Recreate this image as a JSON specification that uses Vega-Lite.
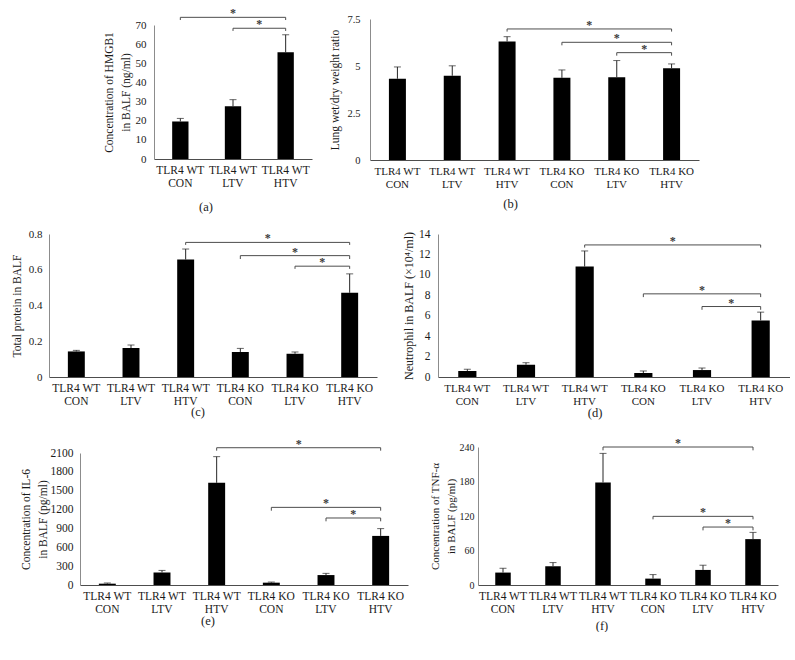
{
"$schema": "https://vega.github.io/schema/vega-lite/v6.json",
"padding": 0,
"config": {
  "view": {"stroke": null},
  "font": "Liberation Serif",
  "axis": {"labelFont": "Liberation Serif", "titleFont": "Liberation Serif", "titleFontWeight": "normal", "grid": false, "ticks": false, "labelColor": "#1a1a1a", "titleColor": "#1a1a1a", "labelOverlap": false, "labelBound": false, "labelFlush": false},
  "title": {"font": "Liberation Serif", "fontWeight": "normal", "fontSize": 12.5, "color": "#1a1a1a"}
},
"datasets": {
  "a": [
    {"group": "TLR4 WT CON", "mean": 19.6, "hi": 21.2},
    {"group": "TLR4 WT LTV", "mean": 27.5, "hi": 31.0},
    {"group": "TLR4 WT HTV", "mean": 55.7, "hi": 64.9}
  ],
  "a_br": [
    {"x1": 0.5, "x2": 2.5, "xm": 1.5, "y": 74.0, "yl": 72.6},
    {"x1": 1.5, "x2": 2.5, "xm": 2.0, "y": 68.3, "yl": 66.9}
  ],
  "b": [
    {"group": "TLR4 WT CON", "mean": 4.32, "hi": 4.95},
    {"group": "TLR4 WT LTV", "mean": 4.48, "hi": 5.01},
    {"group": "TLR4 WT HTV", "mean": 6.30, "hi": 6.56},
    {"group": "TLR4 KO CON", "mean": 4.37, "hi": 4.79},
    {"group": "TLR4 KO LTV", "mean": 4.40, "hi": 5.29},
    {"group": "TLR4 KO HTV", "mean": 4.88, "hi": 5.11}
  ],
  "b_br": [
    {"x1": 2.5, "x2": 5.5, "xm": 4.0, "y": 6.97, "yl": 6.83},
    {"x1": 3.5, "x2": 5.5, "xm": 4.5, "y": 6.26, "yl": 6.10},
    {"x1": 4.5, "x2": 5.5, "xm": 5.0, "y": 5.71, "yl": 5.55}
  ],
  "c": [
    {"group": "TLR4 WT CON", "mean": 0.143, "hi": 0.149},
    {"group": "TLR4 WT LTV", "mean": 0.162, "hi": 0.179},
    {"group": "TLR4 WT HTV", "mean": 0.657, "hi": 0.716},
    {"group": "TLR4 KO CON", "mean": 0.140, "hi": 0.160},
    {"group": "TLR4 KO LTV", "mean": 0.130, "hi": 0.140},
    {"group": "TLR4 KO HTV", "mean": 0.471, "hi": 0.577}
  ],
  "c_br": [
    {"x1": 2.5, "x2": 5.5, "xm": 4.0, "y": 0.753, "yl": 0.739},
    {"x1": 3.5, "x2": 5.5, "xm": 4.5, "y": 0.679, "yl": 0.660},
    {"x1": 4.5, "x2": 5.5, "xm": 5.0, "y": 0.620, "yl": 0.605}
  ],
  "d": [
    {"group": "TLR4 WT CON", "mean": 0.59, "hi": 0.75},
    {"group": "TLR4 WT LTV", "mean": 1.20, "hi": 1.40},
    {"group": "TLR4 WT HTV", "mean": 10.81, "hi": 12.34},
    {"group": "TLR4 KO CON", "mean": 0.39, "hi": 0.59},
    {"group": "TLR4 KO LTV", "mean": 0.68, "hi": 0.88},
    {"group": "TLR4 KO HTV", "mean": 5.54, "hi": 6.35}
  ],
  "d_br": [
    {"x1": 2.5, "x2": 5.5, "xm": 4.0, "y": 12.93, "yl": 12.67},
    {"x1": 3.5, "x2": 5.5, "xm": 4.5, "y": 8.14, "yl": 7.82},
    {"x1": 4.5, "x2": 5.5, "xm": 5.0, "y": 6.90, "yl": 6.58}
  ],
  "e": [
    {"group": "TLR4 WT CON", "mean": 21, "hi": 32},
    {"group": "TLR4 WT LTV", "mean": 200, "hi": 232},
    {"group": "TLR4 WT HTV", "mean": 1625, "hi": 2042},
    {"group": "TLR4 KO CON", "mean": 37, "hi": 47},
    {"group": "TLR4 KO LTV", "mean": 158, "hi": 185},
    {"group": "TLR4 KO HTV", "mean": 781, "hi": 897}
  ],
  "e_br": [
    {"x1": 2.5, "x2": 5.5, "xm": 4.0, "y": 2184, "yl": 2137},
    {"x1": 3.5, "x2": 5.5, "xm": 4.5, "y": 1235, "yl": 1182},
    {"x1": 4.5, "x2": 5.5, "xm": 5.0, "y": 1066, "yl": 1013}
  ],
  "f": [
    {"group": "TLR4 WT CON", "mean": 21.6, "hi": 29.1},
    {"group": "TLR4 WT LTV", "mean": 32.6, "hi": 39.0},
    {"group": "TLR4 WT HTV", "mean": 178.2, "hi": 228.9},
    {"group": "TLR4 KO CON", "mean": 11.1, "hi": 18.1},
    {"group": "TLR4 KO LTV", "mean": 26.2, "hi": 34.4},
    {"group": "TLR4 KO HTV", "mean": 79.8, "hi": 91.5}
  ],
  "f_br": [
    {"x1": 2.5, "x2": 5.5, "xm": 4.0, "y": 240.0, "yl": 234.2},
    {"x1": 3.5, "x2": 5.5, "xm": 4.5, "y": 119.4, "yl": 114.2},
    {"x1": 4.5, "x2": 5.5, "xm": 5.0, "y": 100.8, "yl": 95.0}
  ]
},
"spacing": 0,
"vconcat": [
  {
    "spacing": 0,
    "hconcat": [
      {"width": 101.5, "height": 1, "data": {"values": [{}]}, "mark": {"type": "point", "size": 0, "opacity": 0, "strokeWidth": 0}},
      {"spacing": 0, "vconcat": [
        {"width": 1, "height": 7, "data": {"values": [{}]}, "mark": {"type": "point", "size": 0, "opacity": 0, "strokeWidth": 0}},
        {
          "width": 158, "height": 134,
          "title": {"text": "(a)", "orient": "bottom", "anchor": "middle", "dx": -27, "offset": 12},
          "layer": [
            {"data": {"name": "a"},
             "encoding": {
               "x": {"field": "group", "type": "nominal", "sort": null, "scale": {"paddingInner": 0.69, "paddingOuter": 0.345},
                 "axis": {"title": null, "labelAngle": 0, "labelExpr": "[slice(datum.label,0,7), slice(datum.label,8)]", "labelFontSize": 11.5, "labelLineHeight": 13, "labelPadding": 5, "domainColor": "#4d4d4d"}},
               "y": {"field": "mean", "type": "quantitative", "scale": {"domain": [0, 70], "nice": false},
                 "axis": {"title": ["Concentration of HMGB1", "in BALF (ng/ml)"], "values": [0, 10, 20, 30, 40, 50, 60, 70], "labelExpr": "'' + datum.value", "labelFontSize": 11, "labelPadding": 8, "titlePadding": 4, "titleFontSize": 11.5, "titleLineHeight": 17, "domainColor": "#8c8c8c"}}},
             "layer": [
               {"mark": {"type": "bar", "color": "#000000"}},
               {"mark": {"type": "rule", "color": "#262626"}, "encoding": {"y2": {"field": "hi"}}},
               {"mark": {"type": "tick", "color": "#262626", "size": 7, "thickness": 1}, "encoding": {"y": {"field": "hi", "type": "quantitative",
                 "axis": {"title": ["Concentration of HMGB1", "in BALF (ng/ml)"], "values": [0, 10, 20, 30, 40, 50, 60, 70], "labelExpr": "'' + datum.value", "labelFontSize": 11, "labelPadding": 8, "titlePadding": 4, "titleFontSize": 11.5, "titleLineHeight": 17, "domainColor": "#8c8c8c"}}}}
             ]},
            {"data": {"name": "a_br"},
             "encoding": {"y": {"field": "y", "type": "quantitative",
               "axis": {"title": ["Concentration of HMGB1", "in BALF (ng/ml)"], "values": [0, 10, 20, 30, 40, 50, 60, 70], "labelExpr": "'' + datum.value", "labelFontSize": 11, "labelPadding": 8, "titlePadding": 4, "titleFontSize": 11.5, "titleLineHeight": 17, "domainColor": "#8c8c8c"}}},
             "layer": [
               {"mark": {"type": "rule", "color": "#4d4d4d"}, "encoding": {"x": {"field": "x1", "type": "quantitative", "scale": {"domain": [0, 3], "nice": false, "zero": false}, "axis": null}, "x2": {"field": "x2"}}},
               {"mark": {"type": "rule", "color": "#4d4d4d"}, "encoding": {"x": {"field": "x1", "type": "quantitative"}, "y2": {"field": "yl"}}},
               {"mark": {"type": "rule", "color": "#4d4d4d"}, "encoding": {"x": {"field": "x2", "type": "quantitative"}, "y2": {"field": "yl"}}},
               {"mark": {"type": "text", "text": "*", "fontSize": 12, "fontWeight": "bold", "font": "Liberation Serif", "baseline": "alphabetic", "fill": "#3a3a3a"}, "encoding": {"x": {"field": "xm", "type": "quantitative"}}}
             ]}
          ],
          "resolve": {"scale": {"x": "independent"}}
        }
      ]},
      {"width": 16.4, "height": 1, "data": {"values": [{}]}, "mark": {"type": "point", "size": 0, "opacity": 0, "strokeWidth": 0}},
      {"spacing": 0, "vconcat": [
        {"width": 1, "height": 13.5, "data": {"values": [{}]}, "mark": {"type": "point", "size": 0, "opacity": 0, "strokeWidth": 0}},
        {
          "width": 329, "height": 141,
          "title": {"text": "(b)", "orient": "bottom", "anchor": "middle", "dx": -24, "offset": 9},
          "layer": [
            {"data": {"name": "b"},
             "encoding": {
               "x": {"field": "group", "type": "nominal", "sort": null, "scale": {"paddingInner": 0.69, "paddingOuter": 0.345},
                 "axis": {"title": null, "labelAngle": 0, "labelExpr": "[slice(datum.label,0,7), slice(datum.label,8)]", "labelFontSize": 11, "labelLineHeight": 13, "labelPadding": 5, "domainColor": "#4d4d4d"}},
               "y": {"field": "mean", "type": "quantitative", "scale": {"domain": [0, 7.5], "nice": false},
                 "axis": {"title": "Lung wet/dry weight ratio", "values": [0, 2.5, 5, 7.5], "labelExpr": "'' + datum.value", "labelFontSize": 10.5, "labelPadding": 10, "titlePadding": 6, "titleFontSize": 11.5, "domainColor": "#8c8c8c"}}},
             "layer": [
               {"mark": {"type": "bar", "color": "#000000"}},
               {"mark": {"type": "rule", "color": "#262626"}, "encoding": {"y2": {"field": "hi"}}},
               {"mark": {"type": "tick", "color": "#262626", "size": 7, "thickness": 1}, "encoding": {"y": {"field": "hi", "type": "quantitative",
                 "axis": {"title": "Lung wet/dry weight ratio", "values": [0, 2.5, 5, 7.5], "labelExpr": "'' + datum.value", "labelFontSize": 10.5, "labelPadding": 10, "titlePadding": 6, "titleFontSize": 11.5, "domainColor": "#8c8c8c"}}}}
             ]},
            {"data": {"name": "b_br"},
             "encoding": {"y": {"field": "y", "type": "quantitative",
               "axis": {"title": "Lung wet/dry weight ratio", "values": [0, 2.5, 5, 7.5], "labelExpr": "'' + datum.value", "labelFontSize": 10.5, "labelPadding": 10, "titlePadding": 6, "titleFontSize": 11.5, "domainColor": "#8c8c8c"}}},
             "layer": [
               {"mark": {"type": "rule", "color": "#4d4d4d"}, "encoding": {"x": {"field": "x1", "type": "quantitative", "scale": {"domain": [0, 6], "nice": false, "zero": false}, "axis": null}, "x2": {"field": "x2"}}},
               {"mark": {"type": "rule", "color": "#4d4d4d"}, "encoding": {"x": {"field": "x1", "type": "quantitative"}, "y2": {"field": "yl"}}},
               {"mark": {"type": "rule", "color": "#4d4d4d"}, "encoding": {"x": {"field": "x2", "type": "quantitative"}, "y2": {"field": "yl"}}},
               {"mark": {"type": "text", "text": "*", "fontSize": 12, "fontWeight": "bold", "font": "Liberation Serif", "baseline": "alphabetic", "fill": "#3a3a3a"}, "encoding": {"x": {"field": "xm", "type": "quantitative"}}}
             ]}
          ],
          "resolve": {"scale": {"x": "independent"}}
        }
      ]}
    ]
  },
  {
    "spacing": 0,
    "hconcat": [
      {"width": 10.75, "height": 1, "data": {"values": [{}]}, "mark": {"type": "point", "size": 0, "opacity": 0, "strokeWidth": 0}},
      {"spacing": 0, "vconcat": [
        {"width": 1, "height": 15, "data": {"values": [{}]}, "mark": {"type": "point", "size": 0, "opacity": 0, "strokeWidth": 0}},
        {
          "width": 328, "height": 143,
          "title": {"text": "(c)", "orient": "bottom", "anchor": "middle", "dx": -15, "offset": -1},
          "layer": [
            {"data": {"name": "c"},
             "encoding": {
               "x": {"field": "group", "type": "nominal", "sort": null, "scale": {"paddingInner": 0.69, "paddingOuter": 0.345},
                 "axis": {"title": null, "labelAngle": 0, "labelExpr": "[slice(datum.label,0,7), slice(datum.label,8)]", "labelFontSize": 11.5, "labelLineHeight": 13, "labelPadding": 5, "domainColor": "#4d4d4d"}},
               "y": {"field": "mean", "type": "quantitative", "scale": {"domain": [0, 0.8], "nice": false},
                 "axis": {"title": "Total protein in BALF", "values": [0, 0.2, 0.4, 0.6, 0.8], "labelExpr": "'' + datum.value", "labelFontSize": 11, "labelPadding": 7, "titlePadding": 6, "titleFontSize": 11.5, "domainColor": "#8c8c8c"}}},
             "layer": [
               {"mark": {"type": "bar", "color": "#000000"}},
               {"mark": {"type": "rule", "color": "#262626"}, "encoding": {"y2": {"field": "hi"}}},
               {"mark": {"type": "tick", "color": "#262626", "size": 7, "thickness": 1}, "encoding": {"y": {"field": "hi", "type": "quantitative",
                 "axis": {"title": "Total protein in BALF", "values": [0, 0.2, 0.4, 0.6, 0.8], "labelExpr": "'' + datum.value", "labelFontSize": 11, "labelPadding": 7, "titlePadding": 6, "titleFontSize": 11.5, "domainColor": "#8c8c8c"}}}}
             ]},
            {"data": {"name": "c_br"},
             "encoding": {"y": {"field": "y", "type": "quantitative",
               "axis": {"title": "Total protein in BALF", "values": [0, 0.2, 0.4, 0.6, 0.8], "labelExpr": "'' + datum.value", "labelFontSize": 11, "labelPadding": 7, "titlePadding": 6, "titleFontSize": 11.5, "domainColor": "#8c8c8c"}}},
             "layer": [
               {"mark": {"type": "rule", "color": "#4d4d4d"}, "encoding": {"x": {"field": "x1", "type": "quantitative", "scale": {"domain": [0, 6], "nice": false, "zero": false}, "axis": null}, "x2": {"field": "x2"}}},
               {"mark": {"type": "rule", "color": "#4d4d4d"}, "encoding": {"x": {"field": "x1", "type": "quantitative"}, "y2": {"field": "yl"}}},
               {"mark": {"type": "rule", "color": "#4d4d4d"}, "encoding": {"x": {"field": "x2", "type": "quantitative"}, "y2": {"field": "yl"}}},
               {"mark": {"type": "text", "text": "*", "fontSize": 12, "fontWeight": "bold", "font": "Liberation Serif", "baseline": "alphabetic", "fill": "#3a3a3a"}, "encoding": {"x": {"field": "xm", "type": "quantitative"}}}
             ]}
          ],
          "resolve": {"scale": {"x": "independent"}}
        }
      ]},
      {"width": 24.5, "height": 1, "data": {"values": [{}]}, "mark": {"type": "point", "size": 0, "opacity": 0, "strokeWidth": 0}},
      {"spacing": 0, "vconcat": [
        {"width": 1, "height": 15, "data": {"values": [{}]}, "mark": {"type": "point", "size": 0, "opacity": 0, "strokeWidth": 0}},
        {
          "width": 352, "height": 143,
          "title": {"text": "(d)", "orient": "bottom", "anchor": "middle", "dx": -19, "offset": 1},
          "layer": [
            {"data": {"name": "d"},
             "encoding": {
               "x": {"field": "group", "type": "nominal", "sort": null, "scale": {"paddingInner": 0.69, "paddingOuter": 0.345},
                 "axis": {"title": null, "labelAngle": 0, "labelExpr": "[slice(datum.label,0,7), slice(datum.label,8)]", "labelFontSize": 11, "labelLineHeight": 13, "labelPadding": 5, "domainColor": "#4d4d4d"}},
               "y": {"field": "mean", "type": "quantitative", "scale": {"domain": [0, 14], "nice": false},
                 "axis": {"title": "Neutrophil in BALF (×10⁴/ml)", "values": [0, 2, 4, 6, 8, 10, 12, 14], "labelExpr": "'' + datum.value", "labelFontSize": 11.5, "labelPadding": 8, "titlePadding": 3, "titleFontSize": 12, "domainColor": "#8c8c8c"}}},
             "layer": [
               {"mark": {"type": "bar", "color": "#000000"}},
               {"mark": {"type": "rule", "color": "#262626"}, "encoding": {"y2": {"field": "hi"}}},
               {"mark": {"type": "tick", "color": "#262626", "size": 7, "thickness": 1}, "encoding": {"y": {"field": "hi", "type": "quantitative",
                 "axis": {"title": "Neutrophil in BALF (×10⁴/ml)", "values": [0, 2, 4, 6, 8, 10, 12, 14], "labelExpr": "'' + datum.value", "labelFontSize": 11.5, "labelPadding": 8, "titlePadding": 3, "titleFontSize": 12, "domainColor": "#8c8c8c"}}}}
             ]},
            {"data": {"name": "d_br"},
             "encoding": {"y": {"field": "y", "type": "quantitative",
               "axis": {"title": "Neutrophil in BALF (×10⁴/ml)", "values": [0, 2, 4, 6, 8, 10, 12, 14], "labelExpr": "'' + datum.value", "labelFontSize": 11.5, "labelPadding": 8, "titlePadding": 3, "titleFontSize": 12, "domainColor": "#8c8c8c"}}},
             "layer": [
               {"mark": {"type": "rule", "color": "#4d4d4d"}, "encoding": {"x": {"field": "x1", "type": "quantitative", "scale": {"domain": [0, 6], "nice": false, "zero": false}, "axis": null}, "x2": {"field": "x2"}}},
               {"mark": {"type": "rule", "color": "#4d4d4d"}, "encoding": {"x": {"field": "x1", "type": "quantitative"}, "y2": {"field": "yl"}}},
               {"mark": {"type": "rule", "color": "#4d4d4d"}, "encoding": {"x": {"field": "x2", "type": "quantitative"}, "y2": {"field": "yl"}}},
               {"mark": {"type": "text", "text": "*", "fontSize": 12, "fontWeight": "bold", "font": "Liberation Serif", "baseline": "alphabetic", "fill": "#3a3a3a"}, "encoding": {"x": {"field": "xm", "type": "quantitative"}}}
             ]}
          ],
          "resolve": {"scale": {"x": "independent"}}
        }
      ]}
    ]
  },
  {
    "spacing": 0,
    "hconcat": [
      {"width": 19.5, "height": 1, "data": {"values": [{}]}, "mark": {"type": "point", "size": 0, "opacity": 0, "strokeWidth": 0}},
      {"spacing": 0, "vconcat": [
        {"width": 1, "height": 17, "data": {"values": [{}]}, "mark": {"type": "point", "size": 0, "opacity": 0, "strokeWidth": 0}},
        {
          "width": 328, "height": 132,
          "title": {"text": "(e)", "orient": "bottom", "anchor": "middle", "dx": -36, "offset": 0},
          "layer": [
            {"data": {"name": "e"},
             "encoding": {
               "x": {"field": "group", "type": "nominal", "sort": null, "scale": {"paddingInner": 0.69, "paddingOuter": 0.345},
                 "axis": {"title": null, "labelAngle": 0, "labelExpr": "[slice(datum.label,0,7), slice(datum.label,8)]", "labelFontSize": 11.5, "labelLineHeight": 13, "labelPadding": 5, "domainColor": "#4d4d4d"}},
               "y": {"field": "mean", "type": "quantitative", "scale": {"domain": [0, 2100], "nice": false},
                 "axis": {"title": ["Concentration of IL-6", "in BALF (pg/ml)"], "values": [0, 300, 600, 900, 1200, 1500, 1800, 2100], "labelExpr": "'' + datum.value", "labelFontSize": 11.5, "labelPadding": 7, "titlePadding": 2, "titleFontSize": 11.5, "titleLineHeight": 17, "domainColor": "#8c8c8c"}}},
             "layer": [
               {"mark": {"type": "bar", "color": "#000000"}},
               {"mark": {"type": "rule", "color": "#262626"}, "encoding": {"y2": {"field": "hi"}}},
               {"mark": {"type": "tick", "color": "#262626", "size": 7, "thickness": 1}, "encoding": {"y": {"field": "hi", "type": "quantitative",
                 "axis": {"title": ["Concentration of IL-6", "in BALF (pg/ml)"], "values": [0, 300, 600, 900, 1200, 1500, 1800, 2100], "labelExpr": "'' + datum.value", "labelFontSize": 11.5, "labelPadding": 7, "titlePadding": 2, "titleFontSize": 11.5, "titleLineHeight": 17, "domainColor": "#8c8c8c"}}}}
             ]},
            {"data": {"name": "e_br"},
             "encoding": {"y": {"field": "y", "type": "quantitative",
               "axis": {"title": ["Concentration of IL-6", "in BALF (pg/ml)"], "values": [0, 300, 600, 900, 1200, 1500, 1800, 2100], "labelExpr": "'' + datum.value", "labelFontSize": 11.5, "labelPadding": 7, "titlePadding": 2, "titleFontSize": 11.5, "titleLineHeight": 17, "domainColor": "#8c8c8c"}}},
             "layer": [
               {"mark": {"type": "rule", "color": "#4d4d4d"}, "encoding": {"x": {"field": "x1", "type": "quantitative", "scale": {"domain": [0, 6], "nice": false, "zero": false}, "axis": null}, "x2": {"field": "x2"}}},
               {"mark": {"type": "rule", "color": "#4d4d4d"}, "encoding": {"x": {"field": "x1", "type": "quantitative"}, "y2": {"field": "yl"}}},
               {"mark": {"type": "rule", "color": "#4d4d4d"}, "encoding": {"x": {"field": "x2", "type": "quantitative"}, "y2": {"field": "yl"}}},
               {"mark": {"type": "text", "text": "*", "fontSize": 12, "fontWeight": "bold", "font": "Liberation Serif", "baseline": "alphabetic", "fill": "#3a3a3a"}, "encoding": {"x": {"field": "xm", "type": "quantitative"}}}
             ]}
          ],
          "resolve": {"scale": {"x": "independent"}}
        }
      ]},
      {"width": 21, "height": 1, "data": {"values": [{}]}, "mark": {"type": "point", "size": 0, "opacity": 0, "strokeWidth": 0}},
      {"spacing": 0, "vconcat": [
        {"width": 1, "height": 16.5, "data": {"values": [{}]}, "mark": {"type": "point", "size": 0, "opacity": 0, "strokeWidth": 0}},
        {
          "width": 300, "height": 138,
          "title": {"text": "(f)", "orient": "bottom", "anchor": "middle", "dx": -26, "offset": 5},
          "layer": [
            {"data": {"name": "f"},
             "encoding": {
               "x": {"field": "group", "type": "nominal", "sort": null, "scale": {"paddingInner": 0.69, "paddingOuter": 0.345},
                 "axis": {"title": null, "labelAngle": 0, "labelExpr": "[slice(datum.label,0,7), slice(datum.label,8)]", "labelFontSize": 11.5, "labelLineHeight": 13, "labelPadding": 5, "domainColor": "#4d4d4d"}},
               "y": {"field": "mean", "type": "quantitative", "scale": {"domain": [0, 240], "nice": false},
                 "axis": {"title": ["Concentration of TNF-α", "in BALF (pg/ml)"], "values": [0, 60, 120, 180, 240], "labelExpr": "'' + datum.value", "labelFontSize": 10, "labelPadding": 4, "titlePadding": 3, "titleFontSize": 11, "titleLineHeight": 16, "domainColor": "#8c8c8c"}}},
             "layer": [
               {"mark": {"type": "bar", "color": "#000000"}},
               {"mark": {"type": "rule", "color": "#262626"}, "encoding": {"y2": {"field": "hi"}}},
               {"mark": {"type": "tick", "color": "#262626", "size": 7, "thickness": 1}, "encoding": {"y": {"field": "hi", "type": "quantitative",
                 "axis": {"title": ["Concentration of TNF-α", "in BALF (pg/ml)"], "values": [0, 60, 120, 180, 240], "labelExpr": "'' + datum.value", "labelFontSize": 10, "labelPadding": 4, "titlePadding": 3, "titleFontSize": 11, "titleLineHeight": 16, "domainColor": "#8c8c8c"}}}}
             ]},
            {"data": {"name": "f_br"},
             "encoding": {"y": {"field": "y", "type": "quantitative",
               "axis": {"title": ["Concentration of TNF-α", "in BALF (pg/ml)"], "values": [0, 60, 120, 180, 240], "labelExpr": "'' + datum.value", "labelFontSize": 10, "labelPadding": 4, "titlePadding": 3, "titleFontSize": 11, "titleLineHeight": 16, "domainColor": "#8c8c8c"}}},
             "layer": [
               {"mark": {"type": "rule", "color": "#4d4d4d"}, "encoding": {"x": {"field": "x1", "type": "quantitative", "scale": {"domain": [0, 6], "nice": false, "zero": false}, "axis": null}, "x2": {"field": "x2"}}},
               {"mark": {"type": "rule", "color": "#4d4d4d"}, "encoding": {"x": {"field": "x1", "type": "quantitative"}, "y2": {"field": "yl"}}},
               {"mark": {"type": "rule", "color": "#4d4d4d"}, "encoding": {"x": {"field": "x2", "type": "quantitative"}, "y2": {"field": "yl"}}},
               {"mark": {"type": "text", "text": "*", "fontSize": 12, "fontWeight": "bold", "font": "Liberation Serif", "baseline": "alphabetic", "fill": "#3a3a3a"}, "encoding": {"x": {"field": "xm", "type": "quantitative"}}}
             ]}
          ],
          "resolve": {"scale": {"x": "independent"}}
        }
      ]}
    ]
  }
]
}
